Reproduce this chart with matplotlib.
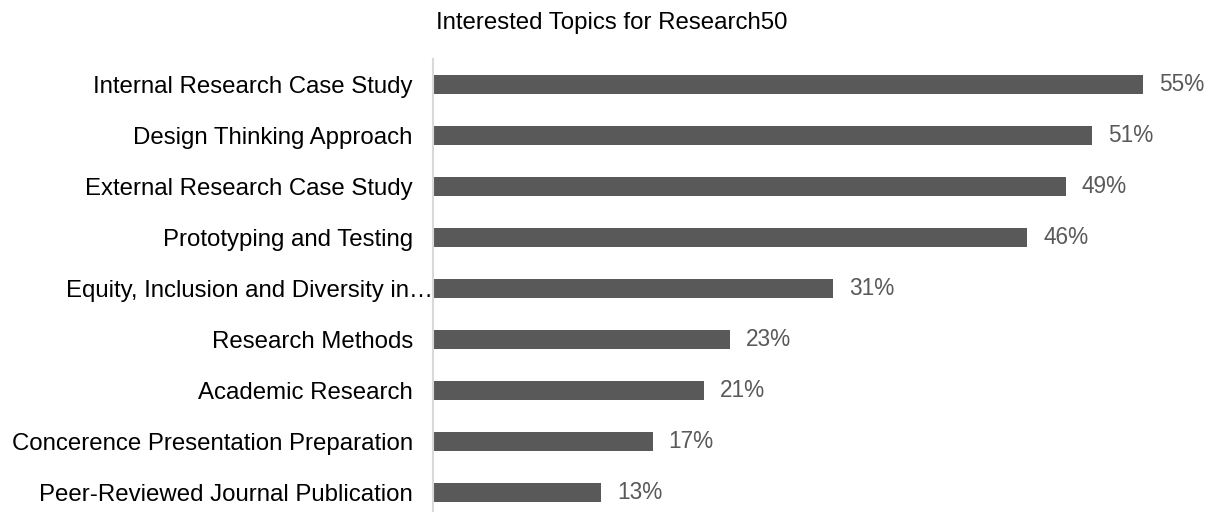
import matplotlib
matplotlib.use("Agg")
from matplotlib import pyplot as plt
from matplotlib import transforms

topics = ["Internal Research Case Study", "Design Thinking Approach", "External Research Case Study",
          "Prototyping and Testing", "Equity, Inclusion and Diversity in\u2026", "Research Methods",
          "Academic Research", "Concerence Presentation Preparation", "Peer-Reviewed Journal Publication"]
shares = [55, 51, 49, 46, 31, 23, 21, 17, 13]
title = "Interested Topics for Research50"

plt.rcParams['font.family'] = ['Liberation Sans', 'DejaVu Sans']

W, H = 1211, 512
fig = plt.figure(figsize=(W / 100, H / 100), dpi=100)
# axes placed in pixels: left edge 433, top 59, row pitch ~51 px
ax = fig.add_axes([433 / W, 1 - 518 / H, 775 / W, 459 / H])

ys = list(range(len(topics)))
ax.barh(ys, shares, height=0.355, color="#595959")
ax.set_ylim(len(topics) - 0.5, -0.5)
ax.set_xlim(0, 60)

for y, v in zip(ys, shares):
    ax.annotate(f"{v}%", (v, y), xytext=(11.5, 0), textcoords="offset points",
                ha="left", va="center", fontsize=16.3, color="#595959")

ax.set_yticks(ys)
ax.set_yticklabels(topics, fontsize=17.3, color="black")
ax.tick_params(axis="y", length=0, pad=14.5)
# the truncated label runs right up to the axis line
for lbl in ax.get_yticklabels():
    if lbl.get_text().endswith("\u2026"):
        lbl.set_transform(lbl.get_transform() + transforms.ScaledTranslation(20 / 100, 0, fig.dpi_scale_trans))
ax.set_xticks([])
for s in ["top", "right", "bottom"]:
    ax.spines[s].set_visible(False)
ax.spines["left"].set_color("#d9d9d9")
ax.spines["left"].set_linewidth(1.5)

fig.text(611.5 / W, 1 - 29 / H, title, ha="center", va="baseline", fontsize=17.3, color="black")

fig.savefig("out.png", dpi=100)
